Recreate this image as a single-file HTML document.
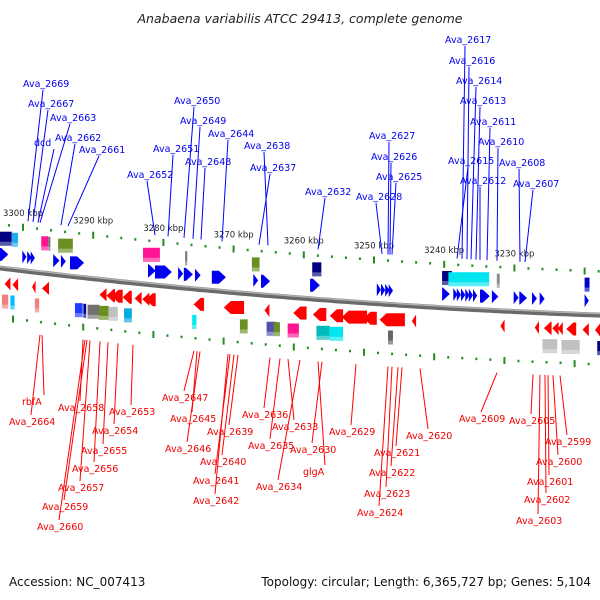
<!DOCTYPE html>
<html><head><meta charset="utf-8">
<style>
html,body{margin:0;padding:0;background:#fff;}
svg{display:block;font-family:"DejaVu Sans","Liberation Sans",sans-serif;}
</style></head>
<body>
<svg id="c" width="600" height="600" viewBox="0 0 600 600">
<text x="300" y="23" text-anchor="middle" font-size="12.5" font-style="italic" fill="#222">Anabaena variabilis ATCC 29413, complete genome</text>
<text x="9" y="586" font-size="12" fill="#111">Accession: NC_007413</text>
<text x="591" y="586" text-anchor="end" font-size="12" fill="#111">Topology: circular; Length: 6,365,727 bp; Genes: 5,104</text>
<g id="layer"></g>
</svg>
<script>
// ---- data ----
const tickKbp = [3300, 3290, 3280, 3270, 3260, 3250, 3240, 3230];
const tickLabels = ["3300 kbp","3290 kbp","3280 kbp","3270 kbp","3260 kbp","3250 kbp","3240 kbp","3230 kbp"];
// forward genes: left-edge kbp, length kbp
const fwdStart = [3303.3,3300.1,3299.4,3298.9,3295.7,3294.6,3293.3,3282.2,3281.2,3277.9,3277.1,3275.5,3273.1,3267.2,3266.1,3259.1,3249.6,3249.0,3248.4,3247.9,3240.3,3238.7,3238.2,3237.6,3237.0,3236.5,3235.9,3234.9,3233.2,3230.1,3229.3,3227.5,3226.4,3220.0];
const fwdLen = [1.2,0.6,0.6,0.6,0.9,0.7,2.0,1.1,2.4,0.7,1.3,0.8,2.0,0.7,1.3,1.4,0.6,0.6,0.6,0.6,1.1,0.6,0.6,0.6,0.6,0.6,0.6,1.4,0.9,0.7,1.1,0.7,0.7,0.6];
// reverse genes
const revStart = [3302.6,3301.5,3298.7,3297.3,3289.1,3288.1,3287.4,3285.8,3284.1,3283.0,3282.5,3275.7,3271.4,3265.6,3261.5,3258.7,3256.3,3254.6,3251.5,3249.2,3244.6,3232.0,3227.1,3225.8,3224.6,3223.8,3222.6,3220.3,3218.5];
const revLen = [0.8,0.8,0.5,1.0,1.0,1.2,1.6,1.3,1.0,1.0,1.4,1.5,2.9,0.7,1.9,1.9,1.9,3.6,1.9,3.6,0.6,0.6,0.6,1.1,0.9,0.7,1.4,0.9,0.7];
// COG boxes
const boxStart = [3303.3,3301.6,3297.4,3296.4,3295.0,3282.9,3276.9,3267.4,3258.8,3240.3,3239.4,3232.5,3220.0,3303.0,3301.8,3298.3,3292.6,3291.4,3290.8,3289.2,3287.8,3285.6,3275.9,3269.1,3265.3,3264.3,3262.3,3258.2,3256.3,3248.0,3226.0,3223.3,3218.2];
const boxLen = [1.7,0.9,1.0,0.3,2.1,2.4,0.3,1.1,1.3,1.4,5.8,0.4,0.7,0.9,0.6,0.6,1.1,0.4,1.7,1.4,1.3,1.1,0.6,1.1,1.4,0.9,1.6,1.9,1.9,0.7,2.1,2.6,0.5];
const boxStrand = [1,1,1,1,1,1,1,1,1,1,1,1,1,-1,-1,-1,-1,-1,-1,-1,-1,-1,-1,-1,-1,-1,-1,-1,-1,-1,-1,-1,-1];
const boxColor = ["#000080","#22aaee","#ff1493","#777","#6b8e23","#ff1493","#777","#6b8e23","#000080","#000080","#00e5ee","#888","#0000cc","#f08080","#00bfff","#f08080","#1e3cff","#000080","#707070","#6b8e23","#c0c0c0","#00aadd","#00e5ee","#6b8e23","#5050b0","#6b8e23","#ff1493","#00bbbb","#00e5ee","#666","#c0c0c0","#c0c0c0","#000080"];
// labels
const topText = ["Ava_2669","Ava_2667","Ava_2663","dcd","Ava_2662","Ava_2661","Ava_2650","Ava_2649","Ava_2644","Ava_2651","Ava_2648","Ava_2638","Ava_2637","Ava_2652","Ava_2632","Ava_2627","Ava_2626","Ava_2625","Ava_2628","Ava_2617","Ava_2616","Ava_2614","Ava_2613","Ava_2611","Ava_2610","Ava_2615","Ava_2608","Ava_2612","Ava_2607"];
const topX = [23,28,50,34,55,79,174,180,208,153,185,244,250,127,305,369,371,376,356,445,449,456,460,470,478,448,499,460,513];
const topY = [87,107,121,146,141,153,104,124,137,152,165,149,171,178,195,139,160,180,200,43,64,84,104,125,145,164,166,184,187];
const topAnchor = [28,33,40,38,61,68,184,193,222,168,201,268,259,155,318,388,390,392,382,462,467,471,476,487,497,457,520,480,525];
const botText = ["rbfA","Ava_2664","Ava_2658","Ava_2653","Ava_2654","Ava_2655","Ava_2656","Ava_2657","Ava_2659","Ava_2660","Ava_2647","Ava_2645","Ava_2646","Ava_2639","Ava_2640","Ava_2641","Ava_2642","Ava_2636","Ava_2633","Ava_2635","Ava_2634","Ava_2629","Ava_2630","glgA","Ava_2620","Ava_2621","Ava_2622","Ava_2623","Ava_2624","Ava_2609","Ava_2605","Ava_2599","Ava_2600","Ava_2601","Ava_2602","Ava_2603"];
const botX = [22,9,58,109,92,81,72,58,42,37,162,170,165,207,200,193,193,242,272,248,256,329,290,303,406,374,369,364,357,459,509,545,536,527,524,516];
const botY = [405,425,411,415,434,454,472,491,510,530,401,422,452,435,465,484,504,418,430,449,490,435,453,475,439,456,476,497,516,422,424,445,465,485,503,524];
const botAnchor = [42,40,83,133,118,108,100,90,87,85,194,197,200,238,234,230,228,270,288,280,300,356,322,318,420,402,398,392,388,497,533,560,553,548,545,540];

// ---- scales ----
const X = k => 23 + (3300 - k) * 7.02;
const B = x => 268 + 0.1217 * x - 7.2e-5 * x * x;
const NS = "http://www.w3.org/2000/svg";
const layer = document.getElementById('layer');
function mk(tag, attrs) { const e = document.createElementNS(NS, tag); for (const k in attrs) e.setAttribute(k, attrs[k]); layer.appendChild(e); return e; }

// backbone
let d = "";
for (let x = -5; x <= 605; x += 5) d += (x === -5 ? "M" : "L") + x + "," + B(x).toFixed(1);
let e = mk('path', {d: d, fill: "none", stroke: "#6a6a6a", "stroke-width": 5});


e = mk('path', {d: d, fill: "none", stroke: "#b0b0b0", "stroke-width": 1.5, transform: "translate(0,-1.5)"});



// dotted scale lines
for (let k = 3304; k >= 3214; k -= 2) {
  const x = X(k);
  const major = (k % 10 === 0);
  const r1 = mk('rect', {x: x - 1, y: B(x) - 44 - (major ? 3 : 1), width: 2, height: major ? 7 : 2.5, fill: "#228b22"});
  
  
  const x2 = x - 10;
  const r2 = mk('rect', {x: x2 - 1, y: B(x2) + 49 - (major ? 3 : 1), width: 2, height: major ? 7 : 2.5, fill: "#228b22"});
  
  
}
tickKbp.forEach((k, i) => {
  const x = X(k);
  const t = mk('text', {x: x, y: B(x) - 55, "text-anchor": "middle", "font-size": 8.5, fill: "#222"});
  t.textContent = tickLabels[i];
  
  
});

// boxes
boxStart.forEach((k, i) => {
  const x = X(k), w = Math.max(2, boxLen[i] * 7.02);
  const yb = B(x + w / 2);
  const y = boxStrand[i] > 0 ? yb - 37 : yb + 26;
  const r = mk('rect', {x: x, y: y, width: w, height: 14, fill: boxColor[i]});
  
  
  const h = mk('rect', {x: x, y: y + 10, width: w, height: 4, fill: "#fff", opacity: 0.35});
  
  
});

// genes
function arrow(x, w, yc, dir, col, name) {
  const hh = 6.5, head = Math.min(w, 7);
  let pts;
  if (dir > 0) pts = [[x, yc - hh], [x + w - head, yc - hh], [x + w, yc], [x + w - head, yc + hh], [x, yc + hh]];
  else pts = [[x + w, yc - hh], [x + head, yc - hh], [x, yc], [x + head, yc + hh], [x + w, yc + hh]];
  const p = mk('polygon', {points: pts.map(p => p[0].toFixed(1) + "," + p[1].toFixed(1)).join(" "), fill: col});
  
  
}
fwdStart.forEach((k, i) => { const x = X(k), w = fwdLen[i] * 7.02; arrow(x, w, B(x + w / 2) - 14, 1, "#0000ee", 'forward-gene'); });
revStart.forEach((k, i) => { const x = X(k), w = revLen[i] * 7.02; arrow(x, w, B(x + w / 2) + 15, -1, "#ff0000", 'reverse-gene'); });

// labels
topText.forEach((s, i) => {
  const ax = topAnchor[i];
  const l = mk('line', {x1: topX[i] + 20, y1: topY[i] + 3, x2: ax, y2: B(ax) - 50, stroke: "#0000ff", "stroke-width": 1});
  
  
  const t = mk('text', {x: topX[i], y: topY[i], "font-size": 9.5, fill: "#0000ee"});
  t.textContent = s;
  
  
});
botText.forEach((s, i) => {
  const ax = botAnchor[i];
  const l = mk('line', {x1: ax, y1: B(ax) + 62, x2: botX[i] + 22, y2: botY[i] - 10, stroke: "#ff0000", "stroke-width": 1});
  
  
  const t = mk('text', {x: botX[i], y: botY[i], "font-size": 9.5, fill: "#ee0000"});
  t.textContent = s;
  
  
});
</script>
</body></html>
